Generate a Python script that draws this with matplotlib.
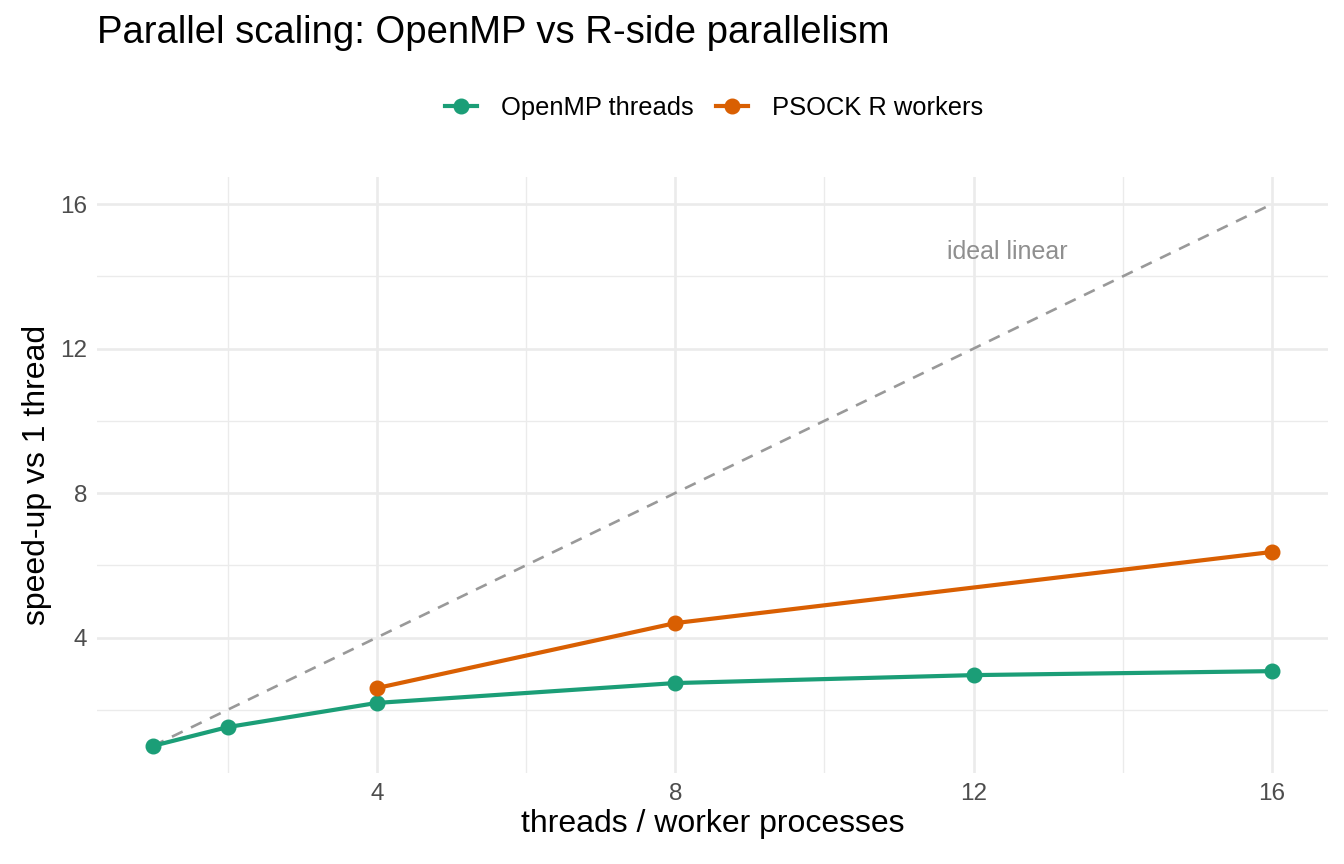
import matplotlib
matplotlib.use("Agg")
import matplotlib.pyplot as plt
from matplotlib.lines import Line2D

plt.rcParams['font.family'] = ['Liberation Sans', 'DejaVu Sans']

# data
omp_threads = [1, 2, 4, 8, 12, 16]
omp_speedup = [1.0, 1.52, 2.19, 2.74, 2.96, 3.07]
psock_workers = [4, 8, 16]
psock_speedup = [2.60, 4.40, 6.37]
ideal_x = [1, 16]
ideal_y = [1, 16]
major_ticks = [4, 8, 12, 16]
minor_ticks = [2, 6, 10, 14]

green = '#1b9e77'
orange = '#d95f02'

fig = plt.figure(figsize=(13.44, 8.64), dpi=100)
ax = fig.add_axes([97/1344, 1-773/864, (1328-97)/1344, (773-177)/864])

ax.set_xlim(0.25, 16.75)
ax.set_ylim(0.25, 16.75)
ax.set_xticks(major_ticks)
ax.set_yticks(major_ticks)
ax.set_xticks(minor_ticks, minor=True)
ax.set_yticks(minor_ticks, minor=True)
ax.grid(which='major', color='#ebebeb', lw=1.9)
ax.grid(which='minor', color='#ebebeb', lw=0.95)
ax.set_axisbelow(True)
for s in ax.spines.values():
    s.set_visible(False)
ax.tick_params(which='both', length=0, labelsize=17.5, labelcolor='#4d4d4d', pad=7)

ax.plot(ideal_x, ideal_y, color='#999999', lw=1.9, dashes=(4.5, 3.5), zorder=2)
ax.text(12.45, 14.68, 'ideal linear', color='#8f8f8f', fontsize=18, ha='center', va='center')

ax.plot(omp_threads, omp_speedup, color=green, lw=3.0, marker='o', ms=10.5, zorder=3)
ax.plot(psock_workers, psock_speedup, color=orange, lw=3.0, marker='o', ms=10.5, zorder=3)

ax.set_xlabel('threads / worker processes', fontsize=23, labelpad=3)
ax.set_ylabel('speed-up vs 1 thread', fontsize=23, labelpad=6)

fig.text(97/1344, 1-33/864, 'Parallel scaling: OpenMP vs R-side parallelism', fontsize=27.5, va='center', ha='left')

handles = [Line2D([], [], color=green, lw=3.0, marker='o', ms=10.5),
           Line2D([], [], color=orange, lw=3.0, marker='o', ms=10.5)]
fig.legend(handles, ['OpenMP threads', 'PSOCK R workers'], loc='center', ncol=2,
           bbox_to_anchor=(714/1344, 1-108/864), frameon=False, fontsize=18.4,
           handlelength=1.25, columnspacing=0.85, handletextpad=0.95)

fig.savefig('out.png', dpi=100)
